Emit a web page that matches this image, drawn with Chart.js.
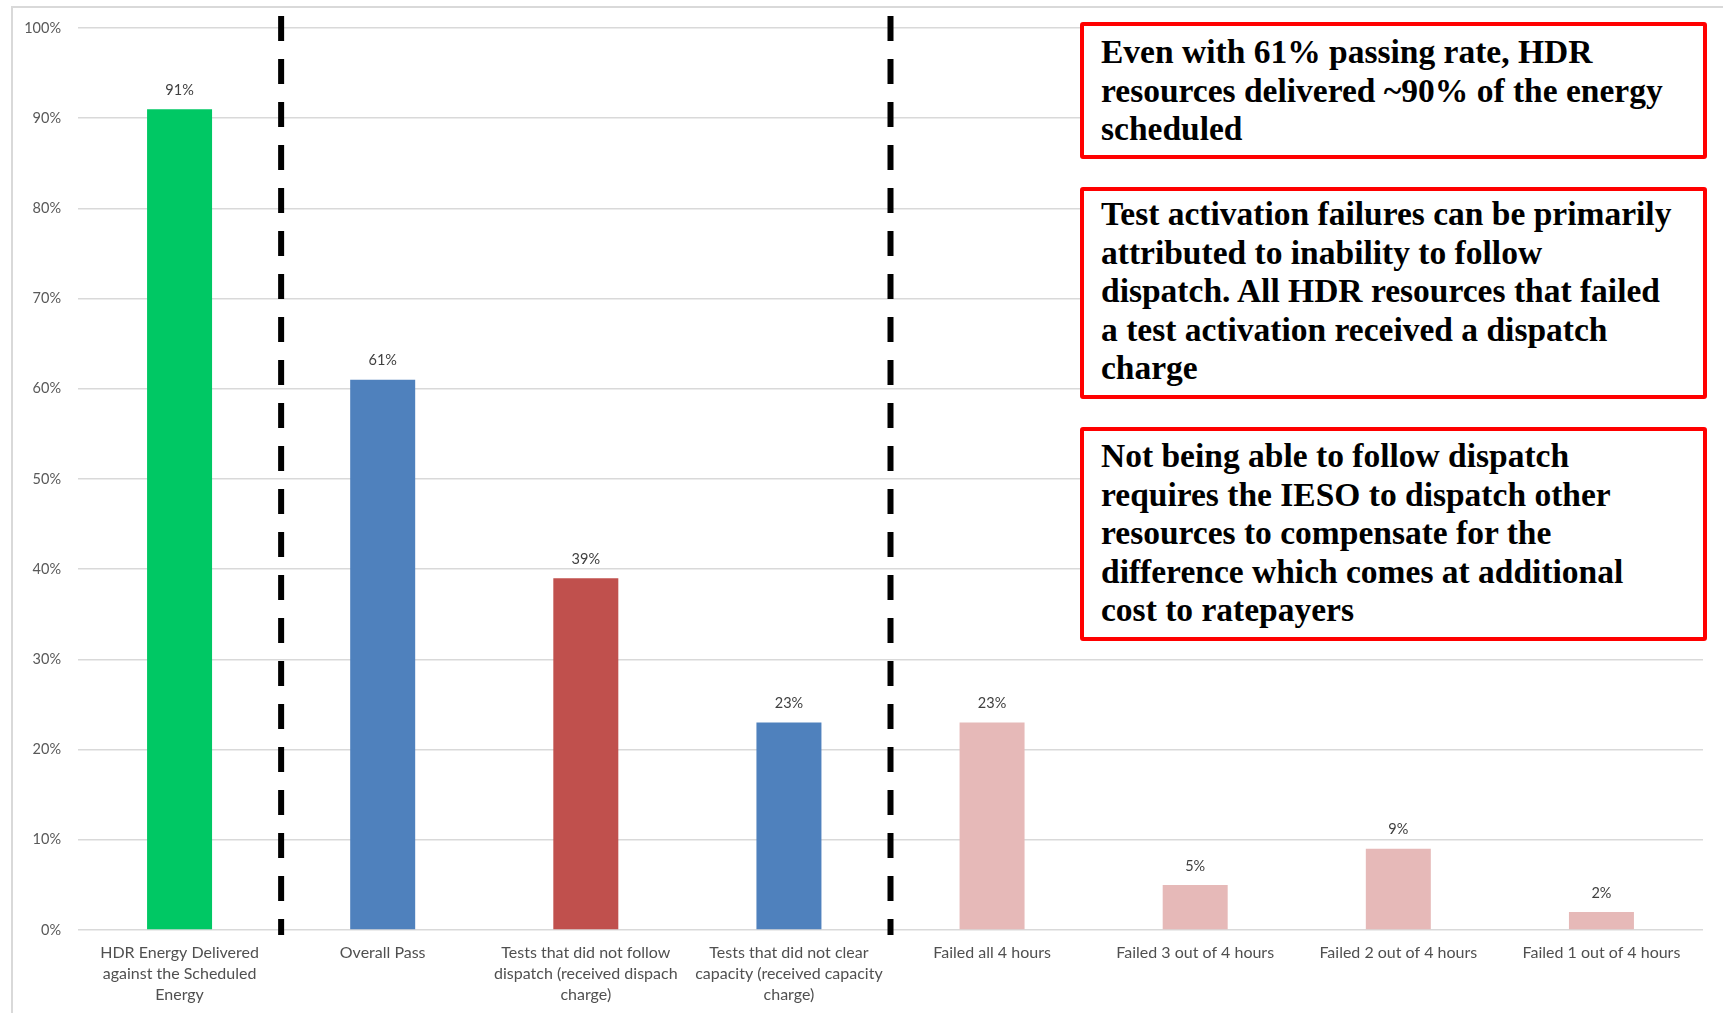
<!DOCTYPE html>
<html>
<head>
<meta charset="utf-8">
<script src="https://cdn.jsdelivr.net/npm/chart.js@4.4.0/dist/chart.umd.min.js"></script>
<style>
  html, body { margin: 0; padding: 0; background: #fff; }
  #stage { position: relative; width: 1723px; height: 1013px; overflow: hidden; background: #fff; }
  #frame { position: absolute; left: 11px; top: 6px; width: 1760px; height: 1060px;
           border-left: 2px solid #d9d9d9; border-top: 2px solid #d9d9d9; }
  #wrap { position: absolute; left: 0; top: 0; width: 1723px; height: 1013px; }
  .note { position: absolute; left: 1080px; width: 627px; box-sizing: border-box;
          border: 4px solid #ff0000; border-radius: 3px; background: #fff;
          font-family: "Liberation Serif", "Times New Roman", serif; font-weight: bold;
          font-size: 33.5px; line-height: 38.5px; color: #000; padding-left: 17px; white-space: nowrap; }
</style>
</head>
<body>
<div id="stage">
  <div id="frame"></div>
  <div id="wrap"><canvas id="chart"></canvas></div>
  <div class="note" id="note0" style="top:22px;height:137px;padding-top:7px;"></div>
  <div class="note" id="note1" style="top:187px;height:212px;padding-top:4px;"></div>
  <div class="note" id="note2" style="top:427px;height:214px;padding-top:6px;"></div>
</div>
<script>
// Categories (multi-line labels as arrays)
const categories = [
  ["HDR Energy Delivered", "against the Scheduled", "Energy"],
  "Overall Pass",
  ["Tests that did not follow", "dispatch (received dispach", "charge)"],
  ["Tests that did not clear", "capacity (received capacity", "charge)"],
  "Failed all 4 hours",
  "Failed 3 out of 4 hours",
  "Failed 2 out of 4 hours",
  "Failed 1 out of 4 hours"
];

// Percent of tests / energy
const values = [91, 61, 39, 23, 23, 5, 9, 2];

// Bar fill per category
const barColors = ['#00C864', '#4F81BD', '#C0504D', '#4F81BD', '#E6B9B8', '#E6B9B8', '#E6B9B8', '#E6B9B8'];

// Dashed separators sit after these category indices
const dividerAfter = [0, 3];

// Callout texts, one array of lines per box
const note0Lines = ["Even with 61% passing rate, HDR", "resources delivered ~90% of the energy", "scheduled"];
const note1Lines = ["Test activation failures can be primarily", "attributed to inability to follow",
                    "dispatch. All HDR resources that failed", "a test activation received a dispatch", "charge"];
const note2Lines = ["Not being able to follow dispatch", "requires the IESO to dispatch other",
                    "resources to compensate for the", "difference which comes at additional", "cost to ratepayers"];

[note0Lines, note1Lines, note2Lines].forEach((lines, i) => {
  const box = document.getElementById('note' + i);
  lines.forEach(t => {
    const d = document.createElement('div');
    d.textContent = t;
    box.appendChild(d);
  });
});

const valueLabels = {
  id: 'valueLabels',
  afterDatasetsDraw(chart) {
    const ctx = chart.ctx;
    const meta = chart.getDatasetMeta(0);
    ctx.save();
    ctx.font = '14.5px Lato, sans-serif';
    ctx.fillStyle = '#404040';
    ctx.textAlign = 'center';
    ctx.textBaseline = 'middle';
    meta.data.forEach((bar, i) => {
      ctx.fillText(values[i] + '%', bar.x, bar.y - 19);
    });
    ctx.restore();
  }
};

const dividers = {
  id: 'dividers',
  afterDatasetsDraw(chart) {
    const ctx = chart.ctx;
    const xs = chart.scales.x;
    ctx.save();
    ctx.strokeStyle = '#000';
    ctx.lineWidth = 6;
    ctx.setLineDash([25, 18]);
    dividerAfter.forEach(i => {
      const x = (xs.getPixelForValue(i) + xs.getPixelForValue(i + 1)) / 2;
      ctx.beginPath();
      ctx.moveTo(x, 16);
      ctx.lineTo(x, chart.chartArea.bottom + 5);
      ctx.stroke();
    });
    ctx.restore();
  }
};

new Chart(document.getElementById('chart'), {
  type: 'bar',
  data: {
    labels: categories,
    datasets: [{
      data: values,
      backgroundColor: barColors,
      borderWidth: 0,
      barPercentage: 0.32,
      categoryPercentage: 1
    }]
  },
  options: {
    responsive: true,
    maintainAspectRatio: false,
    animation: false,
    layout: { padding: { top: 28, right: 20, bottom: 0, left: 0 } },
    plugins: { legend: { display: false }, tooltip: { enabled: false } },
    scales: {
      x: {
        grid: { display: false },
        border: { display: false },
        ticks: {
          autoSkip: false, maxRotation: 0, minRotation: 0, padding: 4,
          color: '#505050',
          font: { family: 'Lato, sans-serif', size: 16, lineHeight: 1.32 }
        },
        afterFit(scale) { scale.height = 83; }
      },
      y: {
        min: 0, max: 100,
        grid: { color: '#d9d9d9', lineWidth: 1.5, drawTicks: false },
        border: { display: false },
        ticks: {
          stepSize: 10, padding: 17, color: '#595959',
          font: { family: 'Lato, sans-serif', size: 14.5 },
          callback: v => v + '%'
        },
        afterFit(scale) { scale.width = 78; }
      }
    }
  },
  plugins: [valueLabels, dividers]
});
</script>
</body>
</html>
